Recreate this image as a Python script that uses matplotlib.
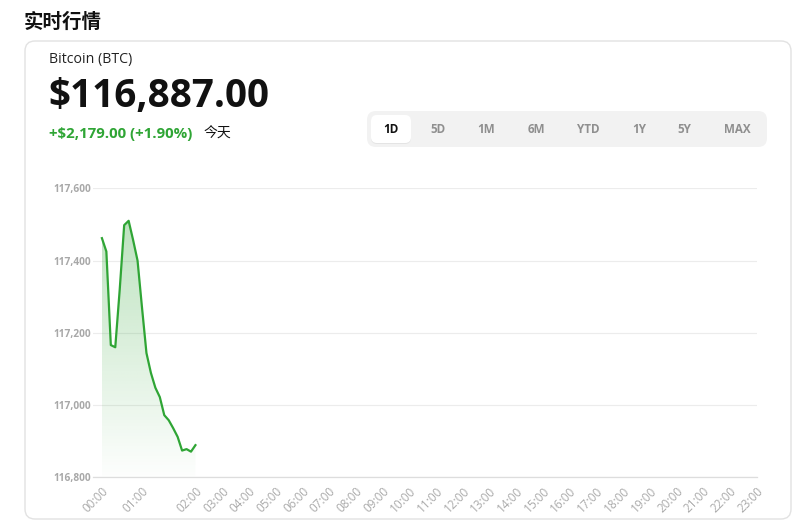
import numpy as np
import matplotlib
matplotlib.use("Agg")
import matplotlib.pyplot as plt
from matplotlib.patches import FancyBboxPatch

plt.rcParams['font.family'] = ['Open Sans', 'Noto Sans CJK SC', 'DejaVu Sans']

# ---------------- data ----------------
title = "实时行情"
asset_name = "Bitcoin (BTC)"
price_text = "$116,887.00"
change_text = "+$2,179.00 (+1.90%)"
change_suffix = "今天"
ranges = ["1D", "5D", "1M", "6M", "YTD", "1Y", "5Y", "MAX"]
active_range = "1D"

prices = [117462, 117425, 117166, 117160, 117320, 117498, 117510, 117457,
          117400, 117270, 117144, 117089, 117048, 117022, 116972, 116958,
          116936, 116912, 116874, 116878, 116871, 116889]
hour_labels = ["%02d:00" % h for h in range(24)]
# slot index of each hour label on the category axis (data slots first, then 6 slots per hour)
hour_slots = [0, 9, 21] + [21 + 6 * k for k in range(1, 22)]
y_ticks = [116800, 117000, 117200, 117400, 117600]

W, H = 808, 521
fig = plt.figure(figsize=(W / 100, H / 100), dpi=100)

bg = fig.add_axes([0, 0, 1, 1], zorder=0)
bg.set_xlim(0, W)
bg.set_ylim(H, 0)
bg.axis('off')

bg.add_patch(FancyBboxPatch((25, 41), 766, 478, boxstyle="round,pad=0,rounding_size=10",
                            facecolor='white', edgecolor='#e2e2e2', linewidth=1.0))

bg.text(24, 22, title, fontsize=14, fontweight='bold', color='#111111',
        ha='left', va='center', family=['Noto Sans CJK SC', 'DejaVu Sans'])
bg.text(49, 59, asset_name, fontsize=10.2, color='#222222', ha='left', va='center')
bg.text(48, 97, price_text, fontsize=27.8, fontweight='bold', color='#111111',
        ha='left', va='center')
green = '#2fa535'
bg.text(49, 134, change_text, fontsize=10.8, fontweight='bold', color=green,
        ha='left', va='center')
bg.text(204, 134, change_suffix, fontsize=10, color='#111111', ha='left', va='center',
        family=['Noto Sans CJK SC', 'DejaVu Sans'])

bg.add_patch(FancyBboxPatch((367, 111), 400, 36, boxstyle="round,pad=0,rounding_size=9",
                            facecolor='#f2f2f2', edgecolor='none'))
btn_centers = [391, 438, 486, 536, 588, 639, 684, 737]
for lab, cx in zip(ranges, btn_centers):
    if lab == active_range:
        bg.add_patch(FancyBboxPatch((cx - 20, 116), 40, 28, boxstyle="round,pad=0,rounding_size=6",
                                    facecolor='#e4e4e4', edgecolor='none'))
        bg.add_patch(FancyBboxPatch((cx - 20, 115), 40, 28, boxstyle="round,pad=0,rounding_size=6",
                                    facecolor='white', edgecolor='none'))
        bg.text(cx, 129.5, lab, fontsize=8.4, fontweight='bold', color='#111111',
                ha='center', va='center')
    else:
        bg.text(cx, 129.5, lab, fontsize=8.4, fontweight='bold', color='#8f8f8f',
                ha='center', va='center')

# ---------------- chart ----------------
left_px, right_px, top_px, bot_px = 93, 756.7, 188.3, 477.3
ax = fig.add_axes([left_px / W, 1 - bot_px / H, (right_px - left_px) / W, (bot_px - top_px) / H],
                  zorder=1)
ax.set_facecolor('none')

x = np.arange(len(prices))
y = np.array(prices, dtype=float)
ymin, ymax = y_ticks[0], y_ticks[-1]

poly = ax.fill_between(x, y, ymin, facecolor='none', edgecolor='none')
grad = np.zeros((256, 1, 4))
grad[:, 0, 0] = 0x2f / 255
grad[:, 0, 1] = 0xa5 / 255
grad[:, 0, 2] = 0x35 / 255
grad[:, 0, 3] = np.linspace(0.01, 0.32, 256)
im = ax.imshow(grad, extent=[x.min(), x.max(), ymin, y.max()], origin='lower',
               aspect='auto', zorder=1, interpolation='bilinear')
im.set_clip_path(poly.get_paths()[0], transform=ax.transData)

ax.plot(x, y, color=green, linewidth=1.6, zorder=3, solid_joinstyle='round')

ax.set_xlim(-2, hour_slots[-1])
ax.set_ylim(ymin, ymax)
ax.set_yticks(y_ticks)
ax.set_yticklabels([f"{v:,}" for v in y_ticks])
ax.set_xticks(hour_slots)
ax.set_xticklabels(hour_labels)
ax.grid(axis='y', color='#ececec', linewidth=0.8)
ax.set_axisbelow(True)
for s in ['top', 'right', 'left']:
    ax.spines[s].set_visible(False)
ax.spines['bottom'].set_color('#dddddd')
ax.spines['bottom'].set_linewidth(0.9)
ax.tick_params(axis='both', length=0)
ax.tick_params(axis='y', pad=1.5, labelsize=7.3, labelcolor='#a8a8a8')
ax.tick_params(axis='x', pad=5, labelsize=8.5, labelcolor='#aaaaaa')
for lbl in ax.get_yticklabels():
    lbl.set_fontweight('bold')
for lbl in ax.get_xticklabels():
    lbl.set_rotation(45)
    lbl.set_ha('right')
    lbl.set_va('top')
    lbl.set_rotation_mode('anchor')

fig.savefig("out.png", dpi=100)
